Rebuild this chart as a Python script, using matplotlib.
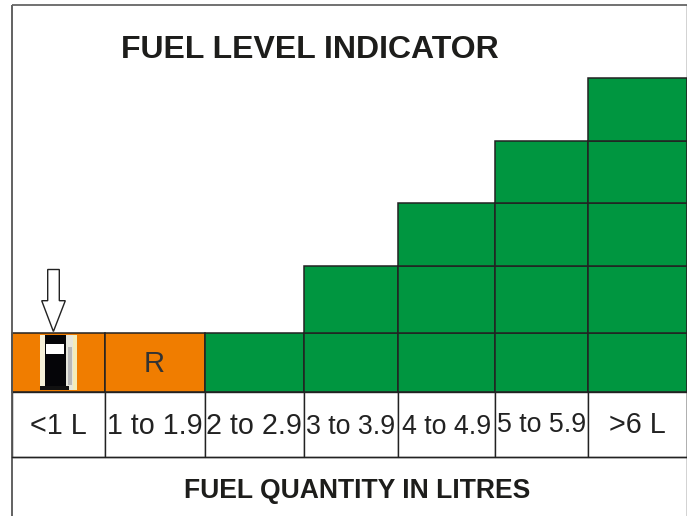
import matplotlib
matplotlib.use("Agg")
import matplotlib.pyplot as plt
from matplotlib.patches import Polygon, Rectangle

plt.rcParams["font.family"] = ["Liberation Sans", "DejaVu Sans"]

categories = ["<1 L", "1 to 1.9", "2 to 2.9", "3 to 3.9", "4 to 4.9", "5 to 5.9", ">6 L"]
block_counts = [1, 1, 1, 2, 3, 4, 5]
block_colors = ["#f07d00", "#f07d00", "#009640", "#009640", "#009640", "#009640", "#009640"]
block_labels = ["", "R", "", "", "", "", ""]

# picture is laid out in pixels, so the axes just run 0-687 / 516-0
bin_edges = [12, 105, 204.5, 304, 398, 495, 588, 687]
block_heights = [59, 67, 63, 62, 63]
base_y = 392
row_y = 457
label_sizes = [20.7, 20.6, 20.6, 19.3, 19.3, 19.3, 20.7]
label_y = [426, 426, 426, 427.5, 426.5, 425.5, 425]

fig = plt.figure(figsize=(6.87, 5.16), dpi=100)
ax = fig.add_axes([0, 0, 1, 1])
ax.set_xlim(0, 687)
ax.set_ylim(516, 0)
ax.axis("off")

edge = "#222222"

for i in range(len(categories)):
    left = bin_edges[i]
    width = bin_edges[i + 1] - left
    bottom = base_y
    for k in range(block_counts[i]):
        h = block_heights[k]
        ax.bar(left, -h, width=width, bottom=bottom, align="edge",
               color=block_colors[i], edgecolor=edge, linewidth=1.1)
        bottom -= h
    # label cell under the bars
    ax.add_patch(Rectangle((left, base_y), width, row_y - base_y, fc="white", ec=edge, lw=1.0))
    ax.text(left + width / 2, label_y[i], categories[i], fontsize=label_sizes[i],
            ha="center", va="center", color="#222222")
    if block_labels[i]:
        ax.text(left + width / 2 - 1, 364, block_labels[i], fontsize=21,
                ha="center", va="center", color="#333333")

# fuel pump icon in the first block
ax.add_patch(Rectangle((40, 335), 5, 55, fc="#f6f0d8", ec="none"))
ax.add_patch(Rectangle((66, 335), 11, 55, fc="#e6e6dc", ec="none"))
ax.add_patch(Rectangle((73, 335), 4, 55, fc="#f4ecb8", ec="none"))
ax.add_patch(Rectangle((68, 347), 4, 38, fc="#b8b8b8", ec="none"))
ax.add_patch(Rectangle((45, 335), 21, 55, fc="#050508", ec="none"))
ax.add_patch(Rectangle((46, 344), 18, 10, fc="white", ec="none"))
ax.add_patch(Rectangle((40, 386), 29, 4, fc="#111111", ec="none"))

# arrow pointing at the pump
ax.add_patch(Polygon([(47.7, 269.5), (59.3, 269.5), (59.3, 300.7), (65.3, 300.7),
                      (53.4, 331.5), (41.7, 300.7), (47.7, 300.7)],
                     closed=True, fc="white", ec=edge, lw=1.0))

# outer frame
ax.plot([12, 12], [516, 5], color="#555555", lw=1.3, solid_capstyle="butt")
ax.plot([12, 687], [5, 5], color="#666666", lw=1.3, solid_capstyle="butt")
ax.plot([686.5, 686.5], [5, 516], color="#222222", lw=1.0, solid_capstyle="butt")
ax.plot([12, 687], [row_y, row_y], color=edge, lw=1.0)

ax.text(310, 50, "FUEL LEVEL INDICATOR", fontsize=23, fontweight="bold",
        ha="center", va="center", color="#1d1d1b")
ax.text(357, 490.5, "FUEL QUANTITY IN LITRES", fontsize=19.1, fontweight="bold",
        ha="center", va="center", color="#1d1d1b")

fig.savefig("out.png", dpi=100)
